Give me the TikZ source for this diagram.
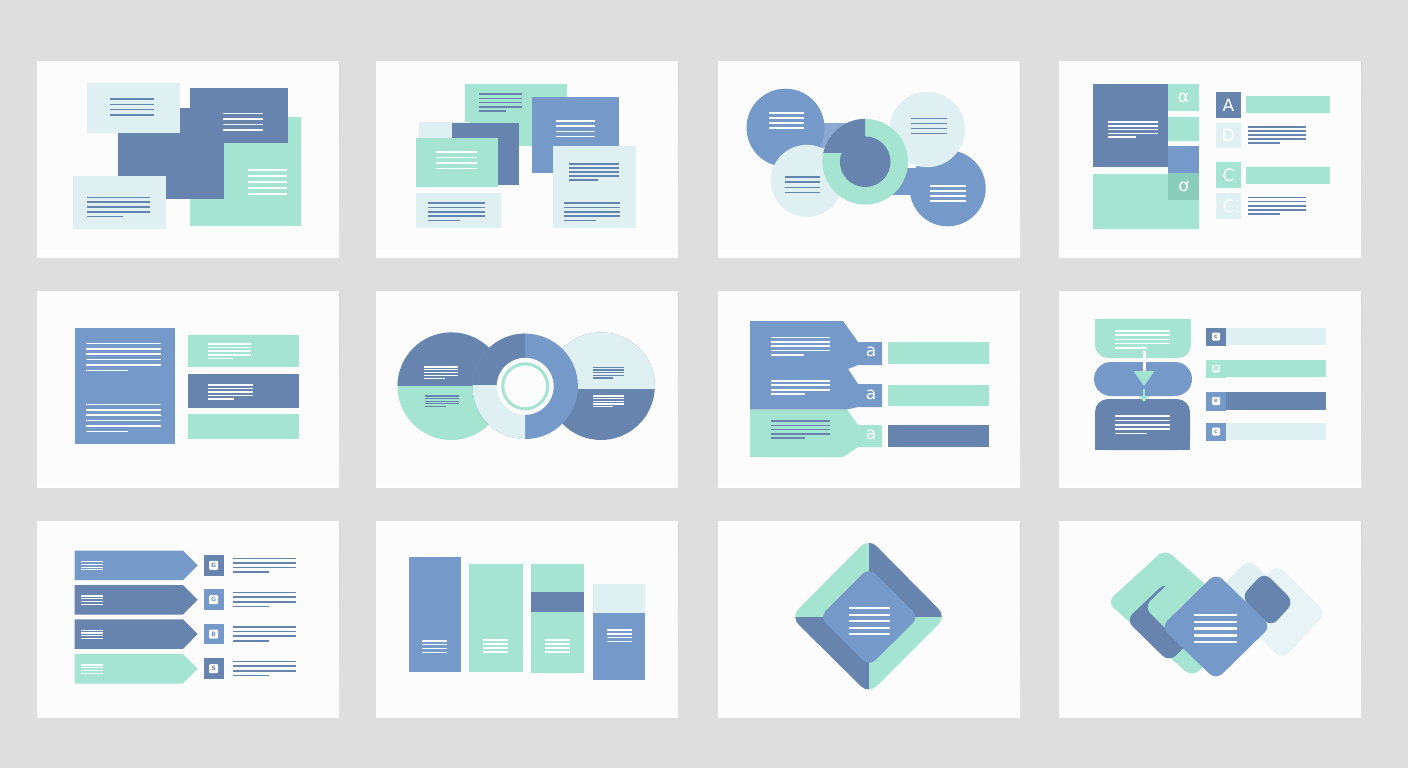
\documentclass[tikz,border=0pt]{standalone}
\usepackage{fontspec}
\setmainfont{DejaVu Sans}
\usepackage{tikz}
\usetikzlibrary{calc, arrows.meta}

\definecolor{dkblue}{RGB}{102,132,174}
\definecolor{mdblue}{RGB}{117,153,201}
\definecolor{mint}{RGB}{164,228,208}
\definecolor{pale}{RGB}{223,240,242}
\definecolor{dkmint}{RGB}{138,206,185}
\definecolor{bggray}{RGB}{222,222,222}
\definecolor{shade}{RGB}{208,208,208}
\definecolor{card}{RGB}{252,252,252}

% placeholder text lines: colour, x from, x to, first y, step, full lines, end of short line (0 = none)
\newcommand{\txtlines}[7]{%
  \foreach \k in {1,...,#6}
    \draw[txt,#1] (#2,{#4+(\k-1)*#5}) -- (#3,{#4+(\k-1)*#5});
  \ifdim #7pt>0pt
    \draw[txt,#1] (#2,{#4+#6*#5}) -- (#7,{#4+#6*#5});
  \fi}

% rounded diamond from its corners L, T, R, B
\newcommand{\rdiam}[5]{%
  \fill[#1,rounded corners=9pt] ($(#2)!0.5!(#3)$) -- (#3) -- (#4) -- (#5) -- (#2) -- cycle;}

\tikzset{
  txt/.style={line width=1.6pt},
  letter/.style={text=white,inner sep=0pt,font=\fontsize{17}{17}\selectfont},
  icon/.style={fill=white,rounded corners=1pt,minimum size=8pt,inner sep=0pt,font=\fontsize{6}{6}\selectfont\bfseries},
}

\begin{document}
\begin{tikzpicture}[x=1pt,y=-1pt]
\fill[bggray] (0,0) rectangle (1408,768);
\useasboundingbox (0,0) rectangle (1408,768);

% cards
\foreach \px/\py in {37/61,376/61,718/61,1059/61,37/291,376/291,718/291,1059/291,37/521,376/521,718/521,1059/521}{
  \fill[shade] (\px,\py+2) rectangle (\px+302,\py+196);
  \fill[card] (\px,\py) rectangle (\px+302,\py+194);
}

% 1: overlapping boxes
\fill[mint] (189.7,117.3) rectangle (301.3,226);
\fill[dkblue] (189.7,87.7) rectangle (287.7,142.7);
\fill[dkblue] (118,107.7) rectangle (223.7,199.3);
\fill[pale] (87,83.3) rectangle (179.7,133.3);
\fill[pale] (73,176) rectangle (166.3,229.3);
\txtlines{dkblue}{110}{154}{99}{5.3}{4}{0}
\txtlines{white}{223}{263}{113.3}{5.6}{4}{0}
\txtlines{white}{248}{287}{170}{6}{5}{0}
\txtlines{dkblue}{87}{150}{197.3}{4.8}{4}{123}

% 2: stacked cards
\fill[mint] (465,84.3) rectangle (567,146);
\fill[pale] (419,122) rectangle (470,150);
\fill[dkblue] (452,123.3) rectangle (519.3,185);
\fill[mint] (416,138.3) rectangle (497.7,187.3);
\fill[mdblue] (532,97.3) rectangle (618.7,173.3);
\fill[pale] (552.7,146) rectangle (636,228.3);
\fill[pale] (416,192.7) rectangle (501,228.3);
\txtlines{dkblue}{479}{522}{94}{4.3}{4}{506}
\txtlines{white}{436}{477}{152}{5.5}{4}{0}
\txtlines{white}{556}{595}{121}{5.2}{4}{0}
\txtlines{dkblue}{569}{619}{164}{4}{4}{598}
\txtlines{dkblue}{564}{620}{203}{4.4}{4}{596}
\txtlines{dkblue}{428}{485}{203}{4.4}{4}{460}

% 3: circles round a ring
\fill[mdblue!85!white] (815,123) rectangle (850,148);
\fill[mdblue] (785.5,127.7) circle (39pt);
\fill[mdblue] (880,168) rectangle (930,195);
\fill[mdblue] (947.7,188.3) circle (38pt);
\fill[pale] (927.2,129.5) circle (37.7pt);
\fill[pale] (806.7,180.8) circle (36pt);
\fill[mint] (865.2,161.7) circle (42.8pt);
\begin{scope}
  \clip (820,115) rectangle (865.2,152);
  \fill[dkblue] (865.2,161.7) circle (42.8pt);
\end{scope}
\fill[dkblue] (865.2,161.7) circle (25.3pt);
\txtlines{white}{769}{804}{113}{5}{4}{0}
\txtlines{dkblue}{785}{820}{177}{5.2}{4}{0}
\txtlines{dkblue}{911}{947}{118.3}{5}{4}{0}
\txtlines{white}{930}{966}{186}{5}{4}{0}

% 4: blocks with letters
\fill[dkblue] (1093,84) rectangle (1168,167);
\fill[mdblue] (1168,146) rectangle (1199,173);
\fill[mint] (1168,84) rectangle (1199,111);
\fill[mint] (1168,117) rectangle (1199,141);
\fill[mint] (1093,174) rectangle (1199,229);
\fill[dkmint] (1168,173) rectangle (1199,200);
\node[letter] (alpha) at (1183.5,97.5) {α};
\node[letter] (ohorn) at (1183.5,186.5) {ơ};
\txtlines{white}{1108}{1158}{122}{3.8}{4}{1136}
\fill[dkblue] (1216,92) rectangle (1241,118);
\node[letter] (la) at (1228.5,105) {A};
\fill[mint] (1246,96) rectangle (1330,113);
\fill[pale] (1216,123) rectangle (1241,148);
\node[letter] (ld) at (1228.5,135.5) {D};
\txtlines{dkblue}{1248}{1306}{126.7}{4}{4}{1280}
\fill[mint] (1216,162) rectangle (1241,188);
\node[letter] (lc) at (1228.5,175) {C};
\fill[mint] (1246,167) rectangle (1330,184);
\fill[pale] (1216,193) rectangle (1241,219);
\node[letter] (lc2) at (1228.5,206) {C};
\txtlines{dkblue}{1248}{1306}{197.3}{4.2}{4}{1280}

% 5: page and three bars
\fill[mdblue] (75,328) rectangle (175,444);
\txtlines{white}{86}{161}{343.3}{5.4}{5}{128}
\txtlines{white}{86}{161}{404.3}{5.4}{5}{128}
\fill[mint] (188,335) rectangle (299,367);
\txtlines{white}{208}{251}{344}{3.6}{4}{233}
\fill[dkblue] (188,374) rectangle (299,408);
\txtlines{white}{208}{253}{384.7}{3.6}{4}{234}
\fill[mint] (188,414) rectangle (299,439);

% 6: three discs
\fill[mint] (451.3,386.2) circle (53.8pt);
\begin{scope}
  \clip (390,330) rectangle (510,385);
  \fill[dkblue] (451.3,386.2) circle (53.8pt);
\end{scope}
\fill[dkblue] (601,386.2) circle (53.8pt);
\begin{scope}
  \clip (540,330) rectangle (660,388.3);
  \fill[pale] (601,386.2) circle (53.8pt);
\end{scope}
\fill[mdblue] (525.2,386.3) circle (52.7pt);
\begin{scope}
  \clip (470,330) rectangle (525.2,385);
  \fill[dkblue] (525.2,386.3) circle (52.7pt);
\end{scope}
\begin{scope}
  \clip (470,385) rectangle (525.2,445);
  \fill[pale] (525.2,386.3) circle (52.7pt);
\end{scope}
\fill[card] (525.2,386.3) circle (28.5pt);
\draw[mint,line width=3pt] (525.2,386.3) circle (22.5pt);
\txtlines{white,line width=1.3pt}{424}{458}{367}{2.8}{4}{445}
\txtlines{dkblue,line width=1.3pt}{425}{459}{396}{2.6}{4}{446}
\txtlines{dkblue,line width=1.3pt}{593}{624}{367.3}{2.7}{4}{613}
\txtlines{white,line width=1.3pt}{593}{624}{396}{2.7}{4}{613}

% 7: tabs
\fill[mdblue] (750,321) -- (843,321) -- (858,342) -- (882,342) -- (882,365) -- (858,365) -- (848,369) -- (750,369) -- cycle;
\fill[mdblue] (750,369) -- (848,369) -- (858,384) -- (882,384) -- (882,407) -- (858,407) -- (847,409.5) -- (750,409.5) -- cycle;
\fill[mint] (750,409.5) -- (847,409.5) -- (858,425) -- (882,425) -- (882,447) -- (858,447) -- (843,457) -- (750,457) -- cycle;
\node[letter] (tab1) at (871,352) {a};
\node[letter] (tab2) at (871,395) {a};
\node[letter] (tab3) at (871,435) {a};
\fill[mint] (888,342) rectangle (989,364);
\fill[mint] (888,385) rectangle (989,406);
\fill[dkblue] (888,425) rectangle (989,447);
\txtlines{white}{771}{830}{337.3}{4.4}{4}{804}
\txtlines{white}{771}{830}{380.7}{4.5}{3}{805}
\txtlines{dkblue}{771}{830}{421}{4.3}{4}{805}

% 8: flow and list
\fill[mint,rounded corners=13pt] (1095,319) rectangle (1191,358);
\fill[mint] (1095,319) rectangle (1191,340);
\fill[mdblue,rounded corners=17pt] (1094,362) rectangle (1192,396);
\fill[dkblue,rounded corners=13pt] (1095,399) rectangle (1190,450);
\fill[dkblue] (1095,425) rectangle (1190,450);
\txtlines{white}{1115}{1170}{330.7}{4.3}{4}{1147}
\txtlines{white}{1115}{1170}{416}{4.4}{4}{1147}
\coordinate (arA) at (1144,351);
\coordinate (arB) at (1144,386);
\coordinate (arC) at (1144,389);
\coordinate (arD) at (1144,402);
\draw[white,line width=3pt,-{Triangle[length=15pt,width=20pt,color=mint]}] (arA) -- (arB);
\draw[mint,line width=2.5pt,-{Triangle[length=6pt,width=10pt]}] (arC) -- (arD);
\foreach \yt/\bc/\sc/\ic/\g [count=\i] in {327.5/pale/dkblue/white/c,359.5/mint/mint/white!70!mint/D,392/dkblue/mdblue/white/e,422.5/pale/mdblue/white/c}{
  \fill[\bc] (1226,\yt) rectangle (1326,\yt+17.5);
  \fill[\sc] (1206,\yt) rectangle (1226,\yt+18.5);
  \node[icon,fill=\ic,text=\sc] (c\i) at (1216,\yt+9) {\g};
}

% 9: arrow list
\foreach \yt/\ac/\sc/\g [count=\i] in {550.7/mdblue/dkblue/G,585/dkblue/mdblue/G,619.3/dkblue/mdblue/B,654/mint/dkblue/S}{
  \fill[\ac] (74.7,\yt) -- (183,\yt) -- (197.7,\yt+14.7) -- (183,\yt+29.5) -- (74.7,\yt+29.5) -- cycle;
  \txtlines{white,line width=1.2pt}{81}{103}{\yt+11}{2.7}{4}{0}
  \fill[\sc] (203.7,\yt+4.3) rectangle (223.7,\yt+25);
  \node[icon,minimum size=9pt,text=\sc] (g\i) at (213.7,\yt+14.7) {\g};
  \txtlines{dkblue}{233}{296}{\yt+7.6}{4.6}{3}{269}
}

% 10: columns
\fill[mdblue] (408.7,557.3) rectangle (461,672.3);
\fill[mint] (469.3,564) rectangle (522.7,672.3);
\fill[mint] (531,564) rectangle (584.3,672.7);
\fill[dkblue] (531,591.7) rectangle (584.3,612);
\fill[pale] (592.7,584.3) rectangle (644.7,612.7);
\fill[mdblue] (592.7,612.7) rectangle (645.3,680.3);
\txtlines{white}{422}{447}{640.7}{3.9}{4}{0}
\txtlines{white}{482.7}{508}{640}{4}{4}{0}
\txtlines{white}{544.7}{570}{640}{4}{4}{0}
\txtlines{white}{606.7}{632}{630}{3.8}{4}{0}

% 11: framed diamond
\begin{scope}
  \clip[rounded corners=11pt] (829.7,577.5) -- (868.7,538.3) -- (946.3,616.7) -- (868.7,694) -- (790.7,616.7) -- cycle;
  \fill[mint] (790,538) rectangle (868.7,616.7);
  \fill[dkblue] (868.7,538) rectangle (947,616.7);
  \fill[dkblue] (790,616.7) rectangle (868.7,695);
  \fill[mint] (868.7,616.7) rectangle (947,695);
\end{scope}
\rdiam{mdblue}{819.5,617}{869,567.5}{919,617}{869,666.5}
\txtlines{white,line width=2.3pt}{848.7}{889.7}{608.3}{6.5}{5}{0}

% 12: layered diamonds
\rdiam{mint}{1107,602}{1165,549}{1250,624}{1192,677}
\rdiam{dkblue}{1126,620}{1166,582}{1209,624}{1169,662}
\rdiam{mint}{1144,607}{1176,576}{1226,626}{1194,657}
\rdiam{pale}{1204,604}{1249,559}{1290,600}{1245,645}
\rdiam{pale!85!white,fill opacity=0.85}{1233,611}{1277,564}{1326,613}{1282,660}
\rdiam{dkblue}{1241,597}{1264,572}{1294,602}{1271,627}
\rdiam{mdblue}{1161,627}{1216,573}{1271,626}{1216,680}
\txtlines{white,line width=2.3pt}{1194}{1237}{615}{6.8}{5}{0}
\end{tikzpicture}
\end{document}
